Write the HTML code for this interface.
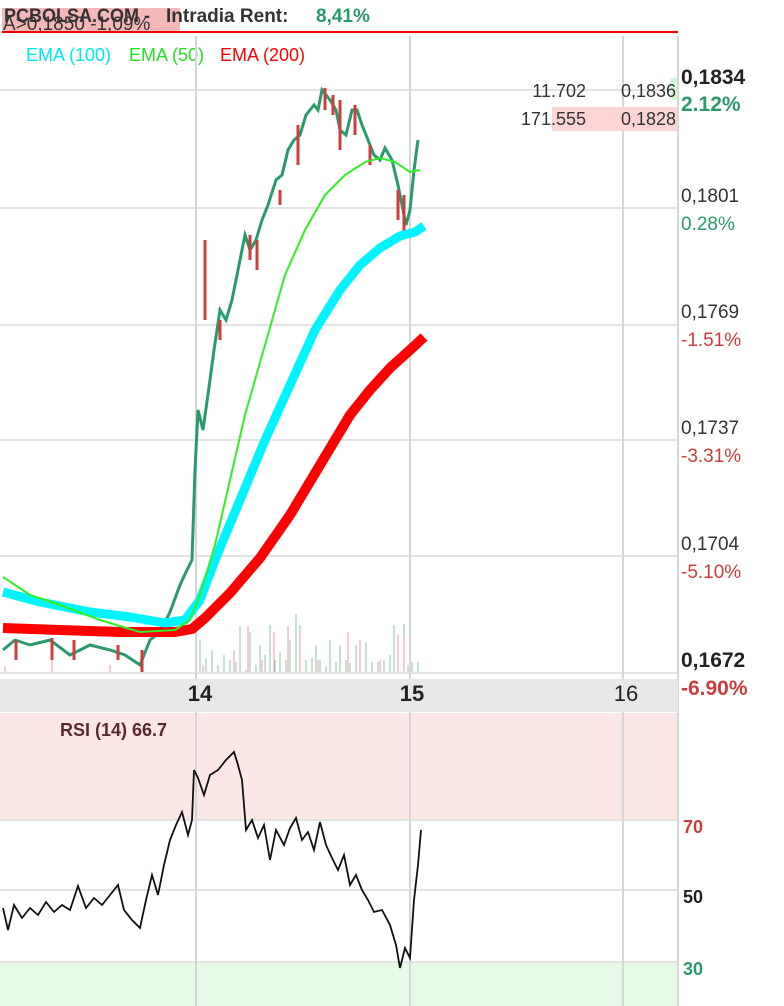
<!DOCTYPE html>
<html><head><meta charset="utf-8"><style>
body{margin:0;background:#fff;width:784px;height:1006px;overflow:hidden;font-family:"Liberation Sans",sans-serif}
svg{display:block}
</style></head><body>
<svg width="784" height="1006" viewBox="0 0 784 1006" font-family="Liberation Sans, sans-serif">
<rect width="784" height="1006" fill="#fff"/>
<!-- RSI backgrounds -->
<rect x="0" y="713" width="678" height="107" fill="#fde6e6"/>
<rect x="0" y="962" width="678" height="44" fill="#e6fbe6"/>
<!-- header -->
<rect x="2" y="8" width="178" height="23" fill="#f4b8b8"/>
<text x="4" y="22" font-size="19" font-weight="bold" fill="#333" textLength="146" lengthAdjust="spacingAndGlyphs">PCBOLSA.COM -</text>
<text x="166" y="22" font-size="19" font-weight="bold" fill="#333">Intradia  Rent:</text>
<text x="316" y="22" font-size="19" font-weight="bold" fill="#2a9a6a">8,41%</text>
<text x="3" y="30" font-size="19" fill="#333">A&gt;0,1850 -1,09%</text>
<line x1="2" y1="32" x2="678" y2="32" stroke="#e00" stroke-width="2"/>
<text x="26" y="61" font-size="18" fill="#00e8f0">EMA (100)</text>
<text x="129" y="61" font-size="18" fill="#22e022">EMA (50)</text>
<text x="220" y="61" font-size="18" fill="#f00">EMA (200)</text>
<!-- grid -->
<g stroke="#e4e4e4" stroke-width="2">
<line x1="0" y1="90" x2="678" y2="90"/><line x1="0" y1="208" x2="678" y2="208"/>
<line x1="0" y1="325" x2="678" y2="325"/><line x1="0" y1="440" x2="678" y2="440"/>
<line x1="0" y1="556" x2="678" y2="556"/><line x1="0" y1="673" x2="678" y2="673"/>
<line x1="0" y1="820" x2="678" y2="820"/><line x1="0" y1="890" x2="678" y2="890"/><line x1="0" y1="962" x2="678" y2="962"/>
</g>
<g stroke="#d6d6d6" stroke-width="2">
<line x1="196" y1="36" x2="196" y2="1006"/><line x1="410" y1="36" x2="410" y2="1006"/>
<line x1="623" y1="36" x2="623" y2="1006"/><line x1="678" y1="36" x2="678" y2="1006"/>
</g>
<!-- volume bars -->
<g stroke-width="1">
<path d="M200 672V640M206 672V658M212 672V650M218 672V665M224 672V655M230 672V660M236 672V662M240 672V626M246 672V670M250 672V632M256 672V665M260 672V645M265 672V655M270 672V625M275 672V660M280 672V652M286 672V660M290 672V640M296 672V614M300 672V625M306 672V660M312 672V658M316 672V645M320 672V660M326 672V666M330 672V640M336 672V662M340 672V645M346 672V660M350 672V663M356 672V645M360 672V666M366 672V642M372 672V662M378 672V662M384 672V660M390 672V655M394 672V625M398 672V660M404 672V624M408 672V665M412 672V662M418 672V662" stroke="#8cc4a8"/>
<path d="M5 672V666M52 672V660M110 672V665M147 672V672M203 672V665M234 672V650M248 672V626M262 672V660M274 672V632M288 672V626M300 672V632M318 672V660M348 672V632M360 672V640M380 672V660M398 672V635M404 672V635" stroke="#ec9a9a"/>
</g>
<!-- price candles approx -->
<polyline fill="none" stroke="#2a9a6a" stroke-width="3" points="3,650 15,640 30,645 50,640 70,655 90,645 110,650 125,655 140,665 150,640 160,632 170,612 180,585 186,572 192,560 195,470 198,410 203,430 210,380 214,350 220,310 226,320 232,300 238,270 245,235 250,250 256,240 262,220 268,205 276,180 282,175 288,150 294,140 300,135 306,115 314,105 318,110 322,90 330,100 336,110 340,130 346,135 352,110 357,110 362,125 368,140 374,155 380,160 385,148 392,160 398,185 402,205 406,225 410,210 414,170 418,140"/>
<g stroke="#cc3d3d" stroke-width="3">
<line x1="205" y1="240" x2="205" y2="320"/><line x1="220" y1="320" x2="220" y2="340"/>
<line x1="250" y1="235" x2="250" y2="260"/><line x1="257" y1="240" x2="257" y2="270"/>
<line x1="280" y1="190" x2="280" y2="205"/><line x1="298" y1="125" x2="298" y2="165"/>
<line x1="325" y1="88" x2="325" y2="110"/><line x1="333" y1="95" x2="333" y2="115"/>
<line x1="340" y1="100" x2="340" y2="150"/><line x1="355" y1="105" x2="355" y2="135"/>
<line x1="370" y1="145" x2="370" y2="165"/><line x1="398" y1="190" x2="398" y2="220"/>
<line x1="404" y1="195" x2="404" y2="235"/><line x1="16" y1="640" x2="16" y2="660"/>
<line x1="52" y1="638" x2="52" y2="660"/><line x1="74" y1="640" x2="74" y2="660"/>
<line x1="118" y1="645" x2="118" y2="660"/><line x1="142" y1="650" x2="142" y2="672"/>
</g>
<!-- EMAs -->
<polyline fill="none" stroke="#ff0000" stroke-width="10" stroke-linejoin="round" points="3,628 60,630 120,632 175,632 192,629 205,618 230,593 260,558 290,515 320,465 350,415 370,390 390,368 410,350 424,337"/>
<polyline fill="none" stroke="#00f4ff" stroke-width="9" stroke-linejoin="round" points="3,592 40,602 90,612 130,617 165,623 185,620 200,600 215,560 240,500 265,440 290,385 315,330 340,290 360,265 380,248 400,236 415,232 424,226"/>
<polyline fill="none" stroke="#33ee22" stroke-width="2" points="3,577 30,595 60,605 100,620 140,632 175,630 190,620 200,595 215,545 230,480 245,415 265,345 285,275 305,230 325,195 345,175 365,162 380,158 395,162 410,172 420,170"/>
<!-- right axis -->
<rect x="552" y="107" width="125" height="24" fill="#fdd4d4"/>
<rect x="670" y="78" width="7" height="22" fill="#d4f8d4"/>
<text x="586" y="97" font-size="18" fill="#333" text-anchor="end">11.702</text>
<text x="676" y="97" font-size="18" fill="#333" text-anchor="end">0,1836</text>
<text x="586" y="125" font-size="18" fill="#333" text-anchor="end">171.555</text>
<text x="676" y="125" font-size="18" fill="#333" text-anchor="end">0,1828</text>
<text x="681" y="84" font-size="21" font-weight="bold" fill="#222">0,1834</text>
<text x="681" y="111" font-size="21" font-weight="bold" fill="#2a9a6a">2.12%</text>
<g font-size="19">
<text x="681" y="202" fill="#333">0,1801</text><text x="681" y="230" fill="#2a9a6a">0.28%</text>
<text x="681" y="318" fill="#333">0,1769</text><text x="681" y="346" fill="#cc3d3d">-1.51%</text>
<text x="681" y="434" fill="#333">0,1737</text><text x="681" y="462" fill="#cc3d3d">-3.31%</text>
<text x="681" y="550" fill="#333">0,1704</text><text x="681" y="578" fill="#cc3d3d">-5.10%</text>
</g>
<text x="681" y="667" font-size="21" font-weight="bold" fill="#222">0,1672</text>
<text x="681" y="695" font-size="21" font-weight="bold" fill="#cc3d3d">-6.90%</text>
<!-- x axis band -->
<rect x="0" y="679" width="678" height="33" fill="#e8e8e8"/>
<text x="200" y="701" font-size="22" font-weight="bold" fill="#222" text-anchor="middle">14</text>
<text x="412" y="701" font-size="22" font-weight="bold" fill="#222" text-anchor="middle">15</text>
<text x="626" y="701" font-size="22" fill="#222" text-anchor="middle">16</text>
<!-- RSI -->
<text x="60" y="736" font-size="18" font-weight="bold" fill="#5a2a2a">RSI (14) 66.7</text>
<text x="683" y="833" font-size="18" font-weight="bold" fill="#cc3d3d">70</text>
<text x="683" y="903" font-size="18" font-weight="bold" fill="#222">50</text>
<text x="683" y="975" font-size="18" font-weight="bold" fill="#2a9a6a">30</text>
<polyline fill="none" stroke="#111" stroke-width="1.8" points="3,908 8,930 14,905 22,918 30,908 38,915 46,902 54,912 62,905 70,910 78,886 86,908 94,898 102,905 110,895 118,885 124,910 132,920 140,928 146,900 152,875 158,895 164,865 170,840 176,825 182,812 188,835 192,820 194,770 198,778 204,795 210,775 218,770 226,760 234,752 238,765 242,780 246,830 252,820 258,838 264,825 270,860 276,830 284,845 290,828 296,818 302,840 308,832 314,850 320,822 326,845 332,858 338,870 344,855 350,885 356,875 362,890 368,900 374,912 382,910 390,925 396,945 400,968 405,948 410,958 414,900 418,865 421,830"/>
</svg>
</body></html>
